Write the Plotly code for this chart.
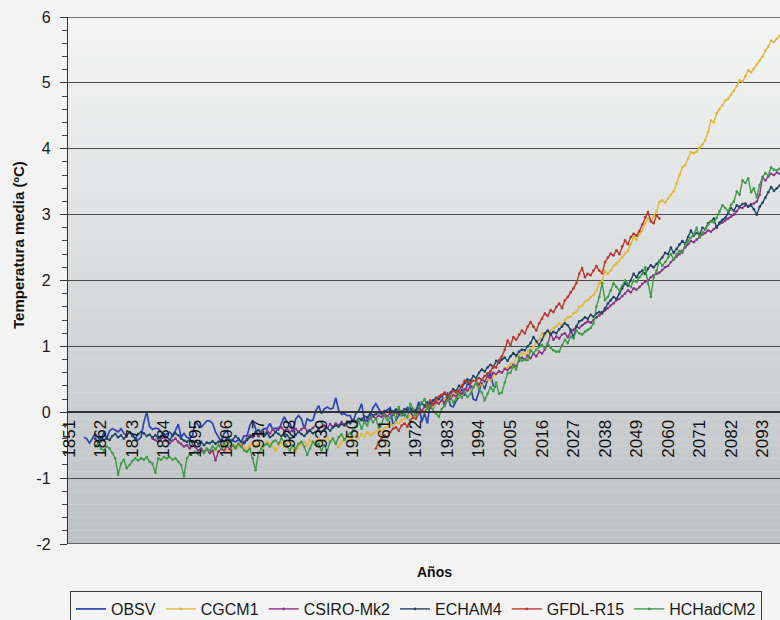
import plotly.graph_objects as go

# ---------------------------------------------------------------------------
# Annual mean temperature anomalies (ºC): observations and five climate models
# ---------------------------------------------------------------------------

OBSV_START = 1856
OBSV = [
    -0.38, -0.40, -0.47, -0.40,                                        # 1856-1859
    -0.33, -0.38, -0.45, -0.30, -0.40, -0.28, -0.25, -0.27, -0.30, -0.25,  # 1860s
    -0.32, -0.35, -0.30, -0.34, -0.40, -0.42, -0.38, -0.15, 0.00, -0.22,   # 1870s
    -0.26, -0.24, -0.25, -0.30, -0.35, -0.33, -0.30, -0.35, -0.28, -0.18,  # 1880s
    -0.38, -0.32, -0.38, -0.40, -0.35, -0.14, -0.20, -0.23, -0.18, -0.13,  # 1890s
    -0.13, -0.17, -0.30, -0.38, -0.45, -0.32, -0.28, -0.42, -0.43, -0.45,  # 1900s
    -0.42, -0.44, -0.36, -0.36, -0.20, -0.12, -0.25, -0.38, -0.28, -0.25,  # 1910s
    -0.25, -0.17, -0.26, -0.24, -0.27, -0.18, -0.07, -0.15, -0.17, -0.30,  # 1920s
    -0.10, -0.05, -0.10, -0.25, -0.10, -0.13, -0.12, 0.02, 0.10, -0.02,    # 1930s
    0.05, 0.08, 0.05, 0.06, 0.22, 0.03, -0.03, -0.02, -0.05, -0.05,        # 1940s
    -0.15, -0.02, 0.02, 0.13, -0.12, -0.14, -0.05, 0.07, 0.13, 0.05,       # 1950s
    -0.02, 0.00, 0.03, 0.07, -0.20, -0.12, -0.05, -0.02, -0.05, 0.08,      # 1960s
    0.03, -0.08, 0.02, 0.16, -0.15, -0.02, -0.17, 0.17, 0.06, 0.15,        # 1970s
    0.20, 0.28, 0.08, 0.30, 0.10, 0.08, 0.17, 0.23, 0.35, 0.25,            # 1980s
    0.45, 0.40, 0.20, 0.18, 0.30, 0.45, 0.35, 0.50, 0.60, 0.40,            # 1990s
    0.38,                                                                  # 2000
]

CGCM1_START = 1900
CGCM1 = [
    -0.58, -0.62, -0.55, -0.60, -0.57, -0.52, -0.58, -0.62, -0.55, -0.50,  # 1900s
    -0.54, -0.48, -0.52, -0.57, -0.50, -0.46, -0.52, -0.48, -0.55, -0.50,  # 1910s
    -0.45, -0.48, -0.52, -0.58, -0.50, -0.46, -0.53, -0.48, -0.44, -0.55,  # 1920s
    -0.60, -0.52, -0.48, -0.45, -0.50, -0.42, -0.47, -0.44, -0.40, -0.46,  # 1930s
    -0.42, -0.38, -0.45, -0.40, -0.48, -0.53, -0.45, -0.40, -0.36, -0.42,  # 1940s
    -0.38, -0.35, -0.40, -0.33, -0.37, -0.30, -0.35, -0.32, -0.30, -0.26,  # 1950s
    -0.28, -0.24, -0.22, -0.18, -0.20, -0.15, -0.17, -0.12, -0.10, -0.08,  # 1960s
    -0.05, -0.08, -0.02, 0.00, 0.03, 0.01, 0.06, 0.10, 0.08, 0.13,         # 1970s
    0.18, 0.15, 0.20, 0.22, 0.19, 0.25, 0.28, 0.24, 0.30, 0.32,            # 1980s
    0.35, 0.33, 0.38, 0.42, 0.44, 0.40, 0.46, 0.50, 0.48, 0.55,            # 1990s
    0.58, 0.62, 0.60, 0.66, 0.68, 0.74, 0.72, 0.83, 0.86, 0.90,            # 2000s
    0.88, 0.92, 0.96, 0.99, 1.05, 1.10, 1.20, 1.16, 1.22, 1.24,            # 2010s
    1.28, 1.30, 1.35, 1.32, 1.40, 1.44, 1.45, 1.50, 1.52, 1.60,            # 2020s
    1.62, 1.68, 1.70, 1.75, 1.78, 1.85, 1.96, 2.00, 2.15, 2.10,            # 2030s
    2.15, 2.22, 2.26, 2.30, 2.35, 2.41, 2.45, 2.55, 2.66, 2.62,            # 2040s
    2.70, 2.75, 2.87, 2.94, 2.90, 2.98, 3.05, 3.19, 3.22, 3.18,            # 2050s
    3.25, 3.30, 3.35, 3.47, 3.60, 3.72, 3.75, 3.85, 3.95, 3.93,            # 2060s
    3.96, 4.02, 4.06, 4.13, 4.25, 4.43, 4.40, 4.54, 4.60, 4.66,            # 2070s
    4.73, 4.76, 4.82, 4.88, 4.95, 5.04, 5.02, 5.10, 5.19, 5.16,            # 2080s
    5.22, 5.28, 5.34, 5.40, 5.49, 5.55, 5.64, 5.62, 5.67, 5.72,            # 2090s
    5.76,                                                                  # 2100
]

CSIRO_START = 1880
CSIRO_MK2 = [
    -0.40, -0.42, -0.45, -0.40, -0.38, -0.44, -0.47, -0.43, -0.40, -0.45,  # 1880s
    -0.48, -0.52, -0.50, -0.55, -0.50, -0.53, -0.58, -0.55, -0.60, -0.56,  # 1890s
    -0.62, -0.58, -0.73, -0.60, -0.55, -0.58, -0.52, -0.56, -0.50, -0.54,  # 1900s
    -0.48, -0.52, -0.45, -0.40, -0.35, -0.38, -0.32, -0.36, -0.30, -0.34,  # 1910s
    -0.28, -0.32, -0.26, -0.30, -0.24, -0.23, -0.28, -0.25, -0.30, -0.27,  # 1920s
    -0.25, -0.30, -0.26, -0.22, -0.28, -0.27, -0.24, -0.20, -0.25, -0.22,  # 1930s
    -0.20, -0.24, -0.18, -0.22, -0.17, -0.20, -0.15, -0.19, -0.14, -0.16,  # 1940s
    -0.12, -0.15, -0.12, -0.10, -0.14, -0.08, -0.10, -0.06, -0.09, -0.05,  # 1950s
    -0.07, -0.03, -0.06, -0.02, -0.04, 0.00, -0.03, 0.02, -0.01, 0.03,     # 1960s
    0.00, 0.04, 0.02, 0.06, 0.03, 0.08, 0.10, 0.07, 0.12, 0.15,            # 1970s
    0.13, 0.18, 0.15, 0.22, 0.20, 0.26, 0.24, 0.30, 0.28, 0.35,            # 1980s
    0.33, 0.40, 0.38, 0.45, 0.42, 0.50, 0.47, 0.55, 0.52, 0.60,            # 1990s
    0.58, 0.62, 0.60, 0.66, 0.64, 0.68, 0.72, 0.70, 0.78, 0.83,            # 2000s
    0.80, 0.86, 0.82, 0.89, 0.85, 0.92, 0.89, 0.95, 1.02, 1.20,            # 2010s
    1.10, 1.15, 1.12, 1.18, 1.20, 1.14, 1.22, 1.25, 1.30, 1.28,            # 2020s
    1.32, 1.35, 1.38, 1.36, 1.40, 1.44, 1.47, 1.52, 1.55, 1.58,            # 2030s
    1.62, 1.65, 1.70, 1.72, 1.76, 1.80, 1.85, 1.82, 1.88, 1.86,            # 2040s
    1.90, 1.95, 1.98, 2.00, 2.05, 2.08, 2.10, 2.12, 2.16, 2.20,            # 2050s
    2.22, 2.28, 2.32, 2.36, 2.40, 2.45, 2.50, 2.55, 2.60, 2.58,            # 2060s
    2.62, 2.66, 2.70, 2.72, 2.76, 2.74, 2.78, 2.82, 2.86, 2.88,            # 2070s
    2.91, 2.94, 2.97, 3.00, 3.05, 3.11, 3.10, 3.14, 3.13, 3.16,            # 2080s
    3.17, 3.20, 3.30, 3.57, 3.52, 3.58, 3.62, 3.60, 3.64, 3.62,            # 2090s
    3.65,                                                                  # 2100
]

ECHAM4_START = 1860
ECHAM4 = [
    -0.40, -0.45, -0.38, -0.42, -0.40, -0.42, -0.36, -0.33, -0.38, -0.35,  # 1860s
    -0.40, -0.35, -0.30, -0.36, -0.40, -0.33, -0.30, -0.32, -0.36, -0.34,  # 1870s
    -0.38, -0.35, -0.40, -0.36, -0.33, -0.38, -0.42, -0.36, -0.32, -0.35,  # 1880s
    -0.40, -0.43, -0.45, -0.42, -0.46, -0.44, -0.48, -0.45, -0.50, -0.46,  # 1890s
    -0.47, -0.44, -0.48, -0.45, -0.42, -0.46, -0.40, -0.44, -0.42, -0.36,  # 1900s
    -0.40, -0.45, -0.47, -0.42, -0.38, -0.35, -0.30, -0.27, -0.33, -0.36,  # 1910s
    -0.32, -0.38, -0.35, -0.30, -0.33, -0.36, -0.32, -0.35, -0.40, -0.38,  # 1920s
    -0.34, -0.30, -0.33, -0.36, -0.31, -0.28, -0.32, -0.30, -0.27, -0.30,  # 1930s
    -0.26, -0.24, -0.28, -0.23, -0.20, -0.22, -0.18, -0.20, -0.15, -0.17,  # 1940s
    -0.12, -0.14, -0.10, -0.12, -0.06, -0.08, -0.02, -0.05, -0.03, 0.00,   # 1950s
    -0.02, 0.02, 0.00, 0.03, 0.01, 0.04, 0.03, 0.00, 0.05, 0.03,           # 1960s
    0.06, 0.02, 0.03, 0.08, 0.13, 0.10, 0.15, 0.12, 0.18, 0.22,            # 1970s
    0.20, 0.25, 0.28, 0.24, 0.30, 0.35, 0.32, 0.40, 0.38, 0.45,            # 1980s
    0.50, 0.48, 0.55, 0.52, 0.60, 0.65, 0.62, 0.68, 0.72, 0.68,            # 1990s
    0.78, 0.75, 0.80, 0.83, 0.78, 0.85, 0.90, 0.86, 0.92, 0.95,            # 2000s
    0.94, 1.00, 1.05, 1.14, 1.08, 1.02, 1.10, 1.20, 1.24, 1.18,            # 2010s
    1.22, 1.20, 1.26, 1.30, 1.35, 1.32, 1.25, 1.14, 1.30, 1.38,            # 2020s
    1.40, 1.44, 1.42, 1.48, 1.45, 1.50, 1.52, 1.50, 1.58, 1.65,            # 2030s
    1.70, 1.75, 1.72, 1.80, 1.88, 1.96, 1.92, 2.00, 2.10, 2.05,            # 2040s
    2.12, 2.15, 2.10, 2.18, 2.23, 2.20, 2.25, 2.30, 2.35, 2.42,            # 2050s
    2.40, 2.50, 2.42, 2.48, 2.55, 2.60, 2.56, 2.66, 2.76, 2.68,            # 2060s
    2.72, 2.70, 2.80, 2.78, 2.87, 2.90, 2.94, 2.80, 2.88, 2.92,            # 2070s
    2.95, 3.02, 3.10, 3.06, 3.14, 3.12, 3.16, 3.17, 3.12, 3.14,            # 2080s
    3.08, 3.00, 3.12, 3.18, 3.26, 3.34, 3.42, 3.36, 3.40, 3.44,            # 2090s
]

GFDL_START = 1958
GFDL_R15 = [
    -0.55, -0.45,                                                          # 1958-1959
    -0.40, -0.35, -0.38, -0.30, -0.25, -0.23, -0.28, -0.20, -0.17, -0.22,  # 1960s
    -0.12, -0.08, -0.10, -0.02, 0.03, 0.00, 0.08, 0.18, 0.12, 0.20,        # 1970s
    0.24, 0.26, 0.30, 0.25, 0.28, 0.32, 0.30, 0.33, 0.40, 0.48,            # 1980s
    0.46, 0.44, 0.48, 0.48, 0.52, 0.50, 0.55, 0.59, 0.62, 0.70,            # 1990s
    0.68, 0.79, 0.85, 0.95, 1.09, 1.02, 1.14, 1.10, 1.18, 1.24,            # 2000s
    1.20, 1.30, 1.37, 1.30, 1.24, 1.35, 1.42, 1.50, 1.46, 1.55,            # 2010s
    1.52, 1.60, 1.65, 1.58, 1.70, 1.75, 1.82, 1.88, 1.96, 2.10,            # 2020s
    2.19, 2.05, 2.10, 2.08, 2.15, 2.22, 2.15, 2.11, 2.28, 2.35,            # 2030s
    2.41, 2.38, 2.46, 2.40, 2.52, 2.61, 2.55, 2.66, 2.71, 2.68,            # 2040s
    2.75, 2.85, 2.96, 3.04, 2.90, 2.87, 2.99, 2.94,                        # 2050-2057
]

HADCM2_START = 1860
HCHADCM2 = [
    -0.52, -0.48, -0.55, -0.58, -0.52, -0.55, -0.62, -0.70, -0.95, -0.78,  # 1860s
    -0.72, -0.85, -0.80, -0.74, -0.70, -0.73, -0.70, -0.72, -0.68, -0.75,  # 1870s
    -0.78, -0.92, -0.70, -0.72, -0.68, -0.70, -0.68, -0.72, -0.70, -0.75,  # 1880s
    -0.80, -0.97, -0.70, -0.64, -0.62, -0.60, -0.64, -0.58, -0.62, -0.55,  # 1890s
    -0.58, -0.52, -0.56, -0.50, -0.55, -0.48, -0.52, -0.45, -0.50, -0.55,  # 1900s
    -0.48, -0.52, -0.58, -0.60, -0.55, -0.70, -0.88, -0.62, -0.55, -0.50,  # 1910s
    -0.48, -0.52, -0.45, -0.43, -0.48, -0.40, -0.45, -0.52, -0.58, -0.50,  # 1920s
    -0.55, -0.48, -0.45, -0.52, -0.65, -0.55, -0.45, -0.50, -0.48, -0.58,  # 1930s
    -0.50, -0.58, -0.45, -0.40, -0.48, -0.38, -0.34, -0.42, -0.35, -0.32,  # 1940s
    -0.28, -0.22, -0.12, -0.25, -0.15, -0.20, -0.08, -0.15, -0.10, -0.23,  # 1950s
    -0.18, -0.05, -0.12, -0.08, 0.00, -0.10, 0.08, -0.05, -0.02, -0.08,    # 1960s
    0.13, 0.05, -0.05, 0.08, 0.15, 0.20, 0.05, 0.10, 0.02, -0.02,          # 1970s
    -0.07, 0.05, 0.10, 0.18, 0.25, 0.15, 0.20, 0.28, 0.22, 0.30,           # 1980s
    0.23, 0.28, 0.38, 0.45, 0.35, 0.30, 0.18, 0.28, 0.38, 0.32,            # 1990s
    0.45, 0.28, 0.30, 0.45, 0.59, 0.60, 0.70, 0.65, 0.83, 0.78,            # 2000s
    0.80, 0.79, 0.94, 0.90, 0.95, 0.99, 1.02, 0.97, 1.05, 0.98,            # 2010s
    0.94, 0.92, 0.92, 1.02, 1.10, 1.05, 1.15, 1.12, 1.24, 1.20,            # 2020s
    1.18, 1.22, 1.25, 1.28, 1.35, 1.60, 1.75, 1.96, 1.70, 1.75,            # 2030s
    1.85, 1.96, 1.90, 1.85, 1.92, 2.00, 1.95, 1.90, 2.00, 1.98,            # 2040s
    2.05, 2.10, 2.20, 1.95, 1.75, 2.05, 2.15, 2.30, 2.22, 2.28,            # 2050s
    2.35, 2.40, 2.32, 2.40, 2.45, 2.42, 2.55, 2.60, 2.65, 2.70,            # 2060s
    2.80, 2.65, 2.72, 2.78, 2.85, 2.90, 2.88, 2.95, 3.05, 3.14,            # 2070s
    3.10, 3.05, 3.15, 3.20, 3.35, 3.30, 3.52, 3.48, 3.55, 3.34,            # 2080s
    3.40, 3.26, 3.45, 3.57, 3.63, 3.60, 3.72, 3.68, 3.67, 3.70,            # 2090s
]

X_TICK_YEARS = [1851, 1862, 1873, 1884, 1895, 1906, 1917, 1928, 1939, 1950, 1961,
                1972, 1983, 1994, 2005, 2016, 2027, 2038, 2049, 2060, 2071, 2082, 2093]
Y_TICK_VALUES = [-2, -1, 0, 1, 2, 3, 4, 5, 6]
Y_TICK_LABELS = ["-2", "-1", "0", "1", "2", "3", "4", "5", "6"]

SERIES = [
    ("OBSV", OBSV_START, OBSV, "#2a44b8", False),
    ("CGCM1", CGCM1_START, CGCM1, "#e3b63c", True),
    ("CSIRO-Mk2", CSIRO_START, CSIRO_MK2, "#8a3388", True),
    ("ECHAM4", ECHAM4_START, ECHAM4, "#1d4466", True),
    ("GFDL-R15", GFDL_START, GFDL_R15, "#b8382c", True),
    ("HCHadCM2", HADCM2_START, HCHADCM2, "#3f9a48", True),
]

FONT = "Liberation Sans, Arial, sans-serif"

# page geometry (pixels)
W, H = 780, 620
ML, MR, MT, MB = 68, 0, 17, 76
PW, PH = W - ML - MR, H - MT - MB
YEAR_PX = 2.864                      # horizontal pixels per year


def px_x(p):
    return (p - ML) / PW


def px_y(p):
    return (H - MB - p) / PH


fig = go.Figure()

for name, start, values, color, has_marker in SERIES:
    years = list(range(start, start + len(values)))
    fig.add_trace(go.Scatter(
        x=years, y=values, name=name,
        mode="lines+markers" if has_marker else "lines",
        line=dict(color=color, width=1.4 if has_marker else 1.7),
        marker=dict(size=2.6, color=color),
        hoverinfo="x+y+name",
    ))

# vertical grey gradient behind the plot area
shapes = []
top_rgb = (245, 245, 245)
bot_rgb = (188, 193, 196)
n_strips = 80
for i in range(n_strips):
    t = (i + 0.5) / n_strips
    rgb = tuple(round(top_rgb[k] + (bot_rgb[k] - top_rgb[k]) * t) for k in range(3))
    y_hi = 6 - 8 * i / n_strips
    y_lo = 6 - 8 * (i + 1) / n_strips
    shapes.append(dict(
        type="rect", xref="paper", yref="y", x0=0, x1=1, y0=y_lo, y1=y_hi,
        fillcolor="rgb(%d,%d,%d)" % rgb, line=dict(width=0), layer="below",
    ))
# bottom and top frame lines of the plot area
for yv in (-2, 6):
    shapes.append(dict(type="line", xref="paper", yref="y", x0=0, x1=1, y0=yv, y1=yv,
                       line=dict(color="#4a4a4a", width=1.4), layer="below"))

x0 = 1850.5
fig.update_layout(
    width=W, height=H,
    margin=dict(l=ML, r=MR, t=MT, b=MB, pad=0, autoexpand=False),
    paper_bgcolor="#f3f3f3",
    plot_bgcolor="#e6e7e7",
    font=dict(family=FONT, color="#1a1a1a"),
    shapes=shapes,
    showlegend=True,
    legend=dict(
        orientation="h",
        xref="container", yref="container",
        x=70 / W, y=(H - 591) / H, xanchor="left", yanchor="top",
        bgcolor="#f4f4f4", bordercolor="#3a3a3a", borderwidth=1,
        font=dict(family=FONT, size=16, color="#1a1a1a"),
        itemwidth=30, tracegroupgap=0,
    ),
    xaxis=dict(
        range=[x0, x0 + PW / YEAR_PX],
        anchor="free", position=0.25,
        showgrid=False, zeroline=False,
        showline=True, linecolor="#333333", linewidth=1.6,
        tickmode="array", tickvals=X_TICK_YEARS,
        ticktext=[str(y) for y in X_TICK_YEARS],
        tickangle=-90, ticks="",
        tickfont=dict(family=FONT, size=17, color="#111111"),
        fixedrange=True,
    ),
    yaxis=dict(
        range=[-2, 6],
        tickmode="array", tickvals=Y_TICK_VALUES, ticktext=Y_TICK_LABELS,
        showgrid=True, gridcolor="#4a4a4a", gridwidth=1.4,
        zeroline=False,
        showline=True, linecolor="#333333", linewidth=1.4,
        ticks="outside", ticklen=7, tickcolor="#333333", tickwidth=1.2,
        minor=dict(dtick=0.2, ticks="outside", ticklen=5, tickcolor="#444444",
                   tickwidth=1, showgrid=False),
        tickfont=dict(family=FONT, size=16, color="#1a1a1a"),
        ticklabelstandoff=6,
        fixedrange=True,
    ),
    annotations=[
        dict(text="<b>Temperatura media (ºC)</b>", textangle=-90,
             xref="paper", yref="paper", x=px_x(18), y=px_y(245),
             xanchor="center", yanchor="middle", showarrow=False,
             font=dict(family=FONT, size=15, color="#111111")),
        dict(text="<b>Años</b>",
             xref="paper", yref="paper", x=px_x(434), y=px_y(572),
             xanchor="center", yanchor="middle", showarrow=False,
             font=dict(family=FONT, size=14, color="#111111")),
    ],
)

fig.write_html("out.html")
